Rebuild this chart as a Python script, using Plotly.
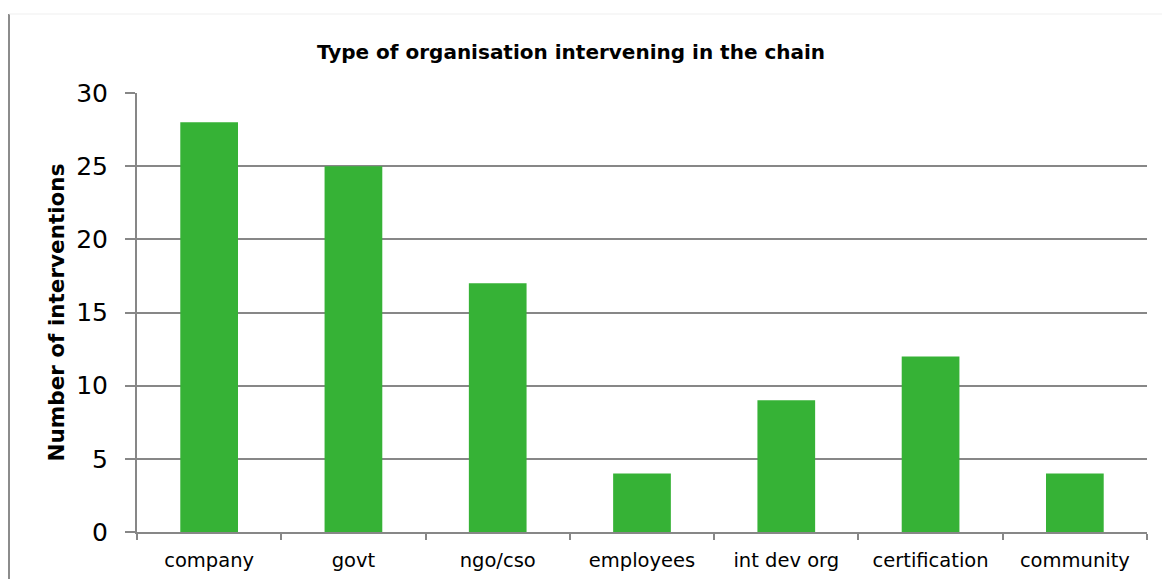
import plotly.graph_objects as go

categories = ["company", "govt", "ngo/cso", "employees", "int dev org", "certification", "community"]
interventions = [28, 25, 17, 4, 9, 12, 4]
y_ticks = [0, 5, 10, 15, 20, 25, 30]

GREEN = "#36b236"
GRID = "#878787"
FONT = "DejaVu Sans"

fig = go.Figure(
    go.Bar(
        x=categories,
        y=interventions,
        marker=dict(color=GREEN, line=dict(width=0)),
        width=0.4,
        hoverinfo="x+y",
    )
)

fig.update_layout(
    width=1162,
    height=579,
    margin=dict(l=137, r=15, t=93, b=47),
    paper_bgcolor="white",
    plot_bgcolor="white",
    showlegend=False,
    font=dict(family=FONT, color="black"),
    title=dict(
        text="<b>Type of organisation intervening in the chain</b>",
        x=571 / 1162,
        xanchor="center",
        xref="container",
        y=1 - 52 / 579,
        yref="container",
        yanchor="middle",
        font=dict(family=FONT, size=20, color="black"),
    ),
    xaxis=dict(
        type="category",
        automargin=False,
        showgrid=False,
        showline=True,
        linecolor=GRID,
        linewidth=2,
        ticks="outside",
        tickson="boundaries",
        ticklen=6,
        tickwidth=2,
        tickcolor=GRID,
        tickfont=dict(family=FONT, size=19.5, color="black"),
        ticklabelstandoff=10,
    ),
    yaxis=dict(
        range=[0, 30],
        automargin=False,
        tickvals=y_ticks,
        showgrid=True,
        gridcolor=GRID,
        gridwidth=2,
        showline=True,
        linecolor=GRID,
        linewidth=2,
        ticks="outside",
        ticklen=10,
        tickwidth=2,
        tickcolor=GRID,
        tickfont=dict(family=FONT, size=25, color="black"),
        ticklabelstandoff=12,
        zeroline=False,
        title=dict(
            text="<b>Number of interventions</b>",
            font=dict(family=FONT, size=21.5, color="black"),
            standoff=6,
        ),
    ),
    shapes=[
        dict(type="line", xref="paper", yref="paper", xsizemode="pixel", ysizemode="pixel",
             xanchor=0, yanchor=0, x0=-128, x1=-128, y0=-47, y1=518,
             line=dict(color="#8c8c8c", width=2)),
        dict(type="line", xref="paper", yref="paper", xsizemode="pixel", ysizemode="pixel",
             xanchor=0, yanchor=0, x0=-128, x1=1025, y0=518, y1=518,
             line=dict(color="#efefef", width=1)),
    ],
)

fig.write_html("out.html")
